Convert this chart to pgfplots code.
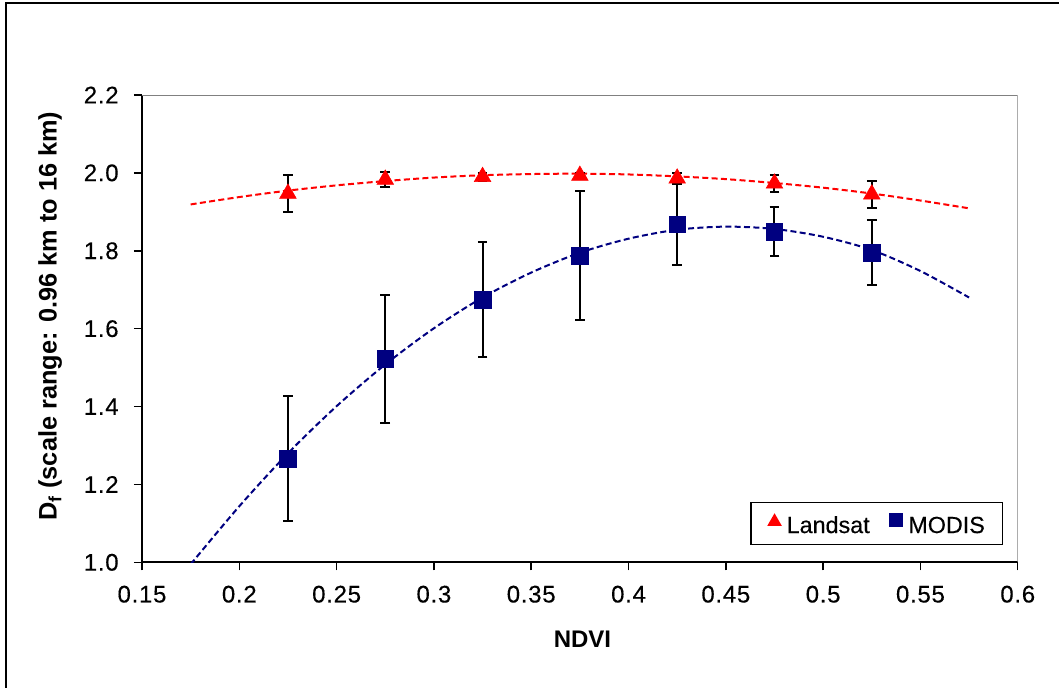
\documentclass[border=0pt]{standalone}
\usepackage{pgfplots}
\pgfplotsset{compat=1.18}
\usepackage{fontspec}
\setmainfont{Liberation Sans}
\newfontfamily\tickfont[LetterSpace=3,FakeBold=0.3]{Liberation Sans}
\newfontfamily\legfont[FakeBold=0.3]{Liberation Sans}
\definecolor{lsred}{RGB}{255,0,0}
\definecolor{mnavy}{RGB}{0,0,128}
\definecolor{frgray}{RGB}{128,128,128}
\begin{document}
\begin{tikzpicture}
\path[use as bounding box] (0,0) rectangle (794.25pt,515.25pt);
\draw[black,line width=1.1pt] (4.5pt,-1pt) -- (4.5pt,513pt) -- (796pt,513pt);
\begin{axis}[
  at={(106.5pt,93.5pt)}, anchor=south west,
  scale only axis, width=656.8pt, height=350.5pt,
  xmin=0.15, xmax=0.6, ymin=1.0, ymax=2.2,
  axis x line=bottom, axis y line=left,
  axis line style={-, black, line width=1.4pt},
  xtick={0.15,0.2,0.25,0.3,0.35,0.4,0.45,0.5,0.55,0.6},
  ytick={1.0,1.2,1.4,1.6,1.8,2.0,2.2},
  xticklabels={0.15,0.2,0.25,0.3,0.35,0.4,0.45,0.5,0.55,0.6},
  /pgf/number format/assume math mode=true,
  tick align=outside, major tick length=6pt,
  tick style={black, line width=1.1pt},
  yticklabel style={/pgf/number format/fixed, /pgf/number format/fixed zerofill, /pgf/number format/precision=1, xshift=-8pt, font=\tickfont\fontsize{18}{21}\selectfont},
  xticklabel style={yshift=-8pt, font=\tickfont\fontsize{18}{21}\selectfont},
  xlabel={\textbf{NDVI}},
  ylabel={\textbf{D\textsubscript{f} (scale range: 0.96 km to 16 km)}},
  x label style={font=\fontsize{18}{21}\selectfont, at={(axis description cs:0.503,-0.164)}, anchor=center},
  y label style={font=\fontsize{19}{22}\selectfont, at={(axis description cs:-0.105,0.527)}, anchor=center},
  clip=true,
  legend columns=2,
  legend image code/.code={\draw[#1] plot coordinates {(0pt,0.36em)};},
  legend style={at={(0.983,0.037)}, anchor=south east, draw=black, line width=1pt,
    font=\legfont\fontsize{17.5}{20}\selectfont, inner xsep=13pt, inner ysep=8.5pt,
    nodes={inner sep=0pt, text height=12.5pt, text depth=0pt},
    /tikz/every odd column/.append style={column sep=4.5pt},
    /tikz/every even column/.append style={column sep=15pt}},
  legend cell align=left,
]
% trendlines
\addplot[lsred, line width=1.5pt, dash pattern=on 4.5pt off 2.5pt, smooth, forget plot] coordinates {
(0.175,1.919) (0.2,1.938) (0.225,1.9545) (0.25,1.968) (0.275,1.979) (0.3,1.988)
(0.325,1.994) (0.35,1.997) (0.375,1.998) (0.4,1.996) (0.425,1.991) (0.45,1.984)
(0.475,1.974) (0.5,1.962) (0.525,1.947) (0.55,1.929) (0.575,1.909)};
\addplot[mnavy, line width=1.5pt, dash pattern=on 4.5pt off 2.5pt, smooth, forget plot] coordinates {
(0.175,0.995) (0.2,1.144) (0.225,1.280) (0.25,1.401) (0.275,1.508) (0.3,1.601)
(0.325,1.680) (0.35,1.744) (0.375,1.795) (0.4,1.831) (0.425,1.854) (0.45,1.862)
(0.475,1.856) (0.5,1.836) (0.525,1.802) (0.55,1.748) (0.575,1.680)};
% Landsat
\addplot[only marks, mark=triangle*, mark size=7.2pt, color=lsred,
  legend image post style={mark size=5.3pt, yshift=-1.3pt},
  error bars/.cd, y dir=both, y explicit,
  error bar style={black, line width=1.5pt},
  error mark options={black, rotate=90, mark size=3.6pt, line width=1.5pt}]
  coordinates {
  (0.225,1.947) +- (0,0.048)
  (0.275,1.983) +- (0,0.020)
  (0.325,1.990) +- (0,0.010)
  (0.375,1.993) +- (0,0.008)
  (0.425,1.986) +- (0,0.014)
  (0.475,1.973) +- (0,0.022)
  (0.525,1.945) +- (0,0.034)};
\addlegendentry{Landsat}
% MODIS
\addplot[only marks, mark=square*, mark size=6.2pt, color=mnavy,
  legend image post style={mark size=4.75pt},
  error bars/.cd, y dir=both, y explicit,
  error bar style={black, line width=1.5pt},
  error mark options={black, rotate=90, mark size=3.6pt, line width=1.5pt}]
  coordinates {
  (0.225,1.266) +- (0,0.161)
  (0.275,1.523) +- (0,0.164)
  (0.325,1.674) +- (0,0.148)
  (0.375,1.787) +- (0,0.166)
  (0.425,1.868) +- (0,0.105)
  (0.475,1.849) +- (0,0.063)
  (0.525,1.795) +- (0,0.084)};
\addlegendentry{MODIS}
\draw[frgray, line width=1.4pt] (rel axis cs:0,1) -- (rel axis cs:1,1) -- (rel axis cs:1,0);
\end{axis}
\end{tikzpicture}
\end{document}
